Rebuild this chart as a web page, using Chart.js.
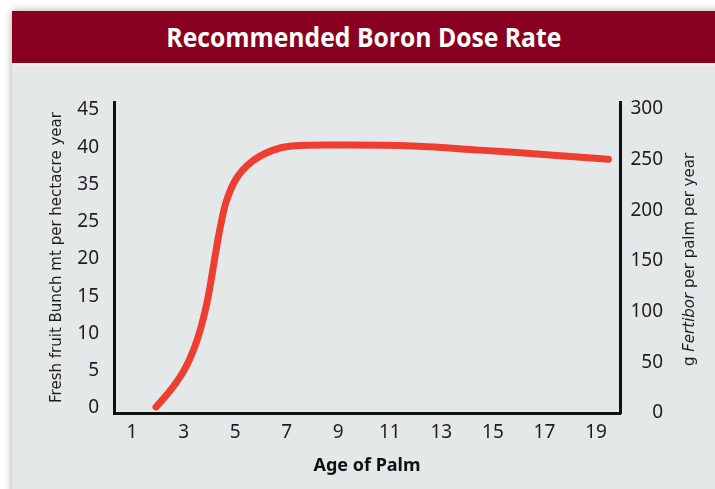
<!DOCTYPE html>
<html>
<head>
<meta charset="utf-8">
<script src="https://cdn.jsdelivr.net/npm/chart.js@4.4.1/dist/chart.umd.min.js"></script>
<style>
    html, body { margin: 0; padding: 0; background: #fff; width: 715px; height: 489px; overflow: hidden; }
    .card {
        position: absolute; left: 12px; top: 11px; width: 720px; height: 500px;
        background: #e4e8e9; box-shadow: 0 0 8px rgba(0, 0, 0, 0.35);
    }
    .header {
        width: 703px; height: 52px; background: #8a0020; border-bottom: 2px solid #eef0f0;
        display: flex; align-items: center; justify-content: center; overflow: hidden;
    }
    .header span {
        display: inline-block; color: #fff; font-weight: 700; font-size: 26.5px;
        font-family: "Open Sans", "Noto Sans", sans-serif; white-space: nowrap;
        transform-origin: center; margin-top: -1px;
    }
    #wrap { position: absolute; left: 12px; top: 66px; }
</style>
</head>
<body>
<div class="card">
    <div class="header"><span id="titulo">Recommended Boron Dose Rate</span></div>
</div>
<div id="wrap"><canvas id="grafico" width="703" height="423"></canvas></div>
<script>
// Edad de la palma (años) y dosis de Fertibor (g por palma por año)
const ages = [1.93, 2.54, 3.06, 3.44, 3.70, 3.90, 4.06, 4.23, 4.42, 4.67, 5.06, 5.64, 6.42, 7.19, 9.33, 11.9, 14.5, 17.09, 19.48];
const fertiborGrams = [6, 24, 44, 66, 87, 108, 130, 156, 183, 210, 232, 248, 259, 263.5, 264.5, 263.5, 259.5, 255, 250.5];

// Etiquetas de los ejes tal como aparecen (el eje izquierdo salta el 30)
const xTickLabels = [1, 3, 5, 7, 9, 11, 13, 15, 17, 19];
const leftTickLabels = ["0", "5", "10", "15", "20", "25", "35", "40", "45"];
const rightTickLabels = [0, 50, 100, 150, 200, 250, 300];

const tickFont = { family: "Noto Sans", size: 19 };
const textColor = "#1e1e1e";

// Ajustar el ancho del título del encabezado (fuente condensada)
const titulo = document.getElementById("titulo");
titulo.style.transform = "scaleX(" + (395 / titulo.getBoundingClientRect().width) + ")";

// Título del eje derecho con "Fertibor" en cursiva
const rightTitlePlugin = {
    id: "rightTitle",
    afterDraw(chart) {
        const ctx = chart.ctx;
        const area = chart.chartArea;
        const parts = [["g ", "normal"], ["Fertibor", "italic"], [" per palm per year", "normal"]];
        ctx.save();
        ctx.fillStyle = textColor;
        ctx.textBaseline = "middle";
        ctx.textAlign = "left";
        let total = 0;
        parts.forEach(p => {
            ctx.font = p[1] + " 15px 'DejaVu Sans'";
            total += ctx.measureText(p[0]).width;
        });
        ctx.translate(chart.width - 25, (area.top + area.bottom) / 2 + 2);
        ctx.rotate(-Math.PI / 2);
        let x = -total / 2;
        parts.forEach(p => {
            ctx.font = p[1] + " 15px 'DejaVu Sans'";
            ctx.fillText(p[0], x, 0);
            x += ctx.measureText(p[0]).width;
        });
        ctx.restore();
    }
};

const canvas = document.getElementById("grafico");
const ctx = canvas.getContext("2d");

new Chart(ctx, {
    type: "line",
    data: {
        datasets: [{
            data: ages.map((a, i) => ({ x: a, y: fertiborGrams[i] })),
            yAxisID: "yRight",
            borderColor: "#ef3e31",
            borderWidth: 7,
            borderCapStyle: "round",
            borderJoinStyle: "round",
            tension: 0.4,
            pointRadius: 0,
            fill: false
        }]
    },
    options: {
        responsive: false,
        animation: false,
        layout: { padding: { top: 36, left: 0, right: 52, bottom: 0 } },
        plugins: { legend: { display: false }, tooltip: { enabled: false } },
        scales: {
            x: {
                type: "linear",
                min: 0.3,
                max: 19.93,
                grid: { display: false, drawTicks: false },
                border: { display: true, color: "#111", width: 3 },
                afterBuildTicks: s => { s.ticks = xTickLabels.map(v => ({ value: v })); },
                afterFit: s => { s.height = 76; },
                ticks: { font: tickFont, color: textColor, padding: 8, maxRotation: 0 },
                title: {
                    display: true, text: "Age of Palm", color: "#111",
                    font: { family: "Noto Sans", size: 18, weight: "bold" },
                    padding: { top: 0, bottom: 12 }
                }
            },
            yLeft: {
                type: "linear",
                position: "left",
                min: -0.134,
                max: 8.215,
                grid: { display: false, drawTicks: false },
                border: { display: true, color: "#111", width: 3 },
                afterBuildTicks: s => { s.ticks = leftTickLabels.map((_, i) => ({ value: i })); },
                afterFit: s => { s.width = 102; },
                ticks: {
                    font: tickFont, color: textColor, padding: 15,
                    callback: v => leftTickLabels[Math.round(v)]
                },
                title: {
                    display: true, text: "Fresh fruit Bunch mt per hectacre year", color: textColor,
                    font: { family: "DejaVu Sans", size: 15 },
                    padding: { top: 36, bottom: 0 }
                }
            },
            yRight: {
                type: "linear",
                position: "right",
                min: 0,
                max: 307,
                grid: { display: false, drawTicks: false },
                border: { display: true, color: "#111", width: 3 },
                afterBuildTicks: s => { s.ticks = rightTickLabels.map(v => ({ value: v })); },
                afterFit: s => { s.width = 43; },
                ticks: { font: tickFont, color: textColor, padding: 10, crossAlign: "far" }
            }
        }
    },
    plugins: [rightTitlePlugin]
});
</script>
</body>
</html>
